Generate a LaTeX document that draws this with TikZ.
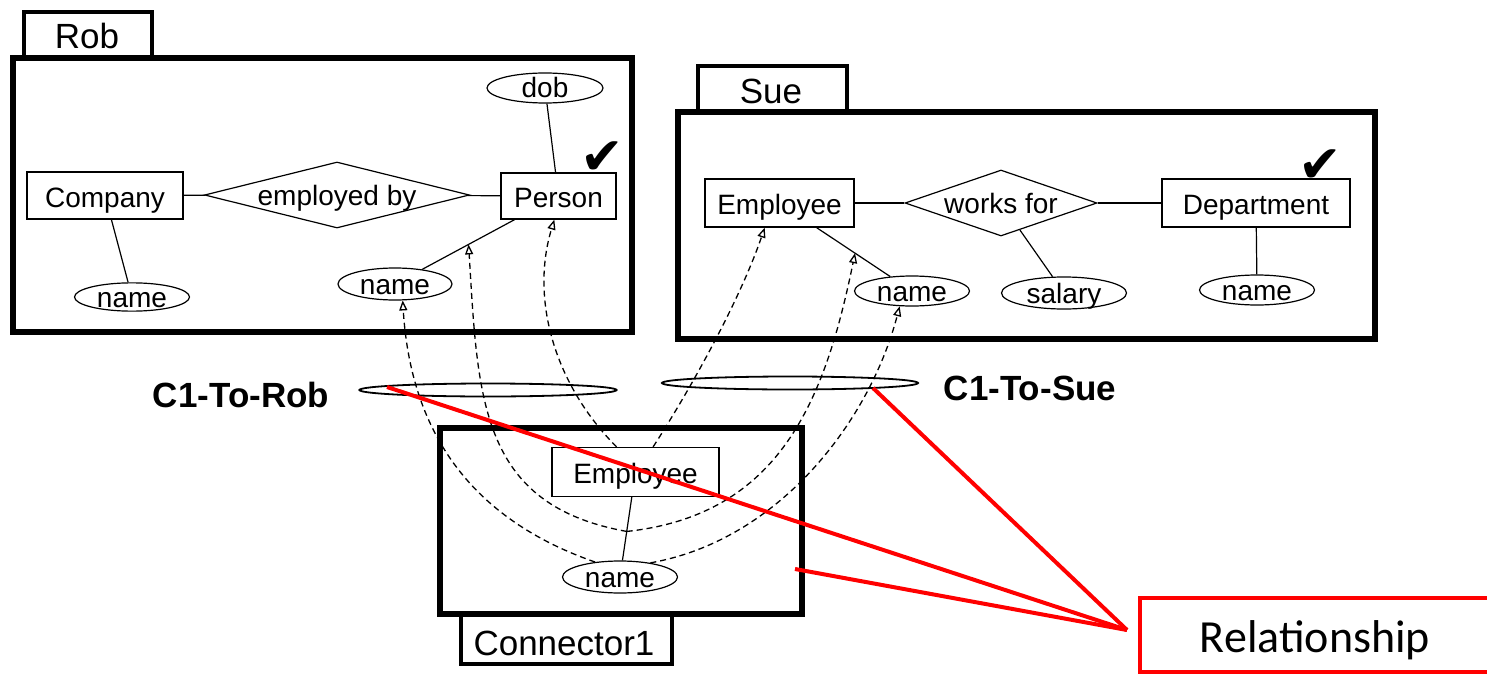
\documentclass[tikz,border=0pt]{standalone}
\usepackage{fontspec}
\setmainfont{Liberation Sans}
\newfontfamily\calibrifont{Carlito}
\newfontfamily\dingfont{DejaVu Sans}
\usetikzlibrary{shapes.geometric,arrows.meta,calc}

\tikzset{
  panel/.style={draw, line width=6pt, rectangle, inner sep=0pt},
  tabbox/.style={draw, line width=4.5pt, rectangle, inner sep=0pt},
  tablabel/.style={font=\fontsize{35}{35}\selectfont, anchor=base, inner sep=0pt},
  entity/.style={draw, line width=1.3pt, rectangle, inner sep=0pt,
    font=\fontsize{28}{28}\selectfont, text height=23pt, text depth=0pt},
  attrib/.style={draw, line width=1.2pt, ellipse, inner sep=0pt,
    font=\fontsize{28}{28}\selectfont, text height=20pt, text depth=0pt},
  relship/.style={draw, line width=1.2pt, diamond, inner sep=0pt},
  reltext/.style={font=\fontsize{28}{28}\selectfont, text height=20pt, text depth=0pt, inner sep=0pt},
  ring/.style={draw, line width=1.8pt, ellipse, inner sep=0pt},
  link/.style={line width=1.2pt},
  mapsto/.style={line width=1.3pt, dash pattern=on 6pt off 4pt,
    -{Triangle[open,length=10pt,width=8pt]}},
  tick/.style={font=\dingfont\fontsize{52}{52}\selectfont, inner sep=0pt},
  maplabel/.style={font=\bfseries\fontsize{35}{35}\selectfont, anchor=base, inner sep=0pt},
  callout/.style={draw=red, line width=4pt},
}

\begin{document}
\begin{tikzpicture}[x=1pt, y=-1pt]
\useasboundingbox (0,0) rectangle (1487,674);
\clip (0,0) rectangle (1487,674);

% ---- schema Rob ----
\node[panel, minimum width=619pt, minimum height=274pt] (robpanel) at (322.5,195) {};
\node[tabbox, minimum width=128pt, minimum height=46pt] (robtab) at (88,35) {};
\node[tablabel] (roblabel) at (87,49) {Rob};

\node[entity, minimum width=156pt, minimum height=47pt] (company) at (105,195.5) {Company};
\node[entity, minimum width=115pt, minimum height=46pt] (person) at (558.5,196) {Person};
\node[relship, minimum width=265pt, minimum height=66pt,
      label={[reltext]center:employed by}] (empby) at (337,195) {};
\node[attrib, minimum width=116pt, minimum height=30pt] (dob) at (545,88) {dob};
\node[attrib, minimum width=115pt, minimum height=28pt] (compname) at (132,297) {name};
\node[attrib, minimum width=114pt, minimum height=32pt] (pname) at (395,284) {name};
\node[tick] (robtick) at (602,158) {✔};

\draw[link] (company) -- (empby);
\draw[link] (empby) -- (person);
\draw[link] (company) -- (compname);
\draw[link] (dob) -- (person);
\draw[link] (person) -- (pname);

% ---- schema Sue ----
\node[panel, minimum width=697pt, minimum height=227pt] (suepanel) at (1026.5,225.5) {};
\node[tabbox, minimum width=149pt, minimum height=46pt] (suetab) at (772.5,89) {};
\node[tablabel] (suelabel) at (771,104) {Sue};

\node[entity, minimum width=149pt, minimum height=48pt] (semp) at (779.5,203) {Employee};
\node[entity, minimum width=188pt, minimum height=48pt] (dept) at (1256,203) {Department};
\node[relship, minimum width=192pt, minimum height=66pt,
      label={[reltext]center:works for}] (worksfor) at (1001,203) {};
\node[attrib, minimum width=115pt, minimum height=30pt] (sname) at (912,291) {name};
\node[attrib, minimum width=125pt, minimum height=32pt] (salary) at (1064,293) {salary};
\node[attrib, minimum width=115pt, minimum height=30pt] (dname) at (1257,290) {name};
\node[tick] (suetick) at (1320,166) {✔};

\draw[link] (semp) -- (worksfor);
\draw[link] (worksfor) -- (dept);
\draw[link] (semp) -- (sname);
\draw[link] (worksfor) -- (salary);
\draw[link] (dept) -- (dname);

% ---- Connector1 ----
\node[panel, minimum width=362pt, minimum height=186pt] (conpanel) at (621,521) {};
\node[tabbox, minimum width=211pt, minimum height=50pt] (contab) at (566.5,639) {};
\node[tablabel] (conlabel) at (564,655) {Connector1};

\node[entity, minimum width=167pt, minimum height=49pt] (cemp) at (635.5,472) {Employee};
\node[attrib, minimum width=115pt, minimum height=32pt] (kname) at (620,577) {name};
\draw[link] (cemp) -- (kname);

% ---- mappings ----
\node[ring, minimum width=257pt, minimum height=13pt] (torob) at (488,390) {};
\node[ring, minimum width=256pt, minimum height=13pt] (tosue) at (790,383) {};
\node[maplabel] (torobtext) at (241,407) {C1-To-Rob};
\node[maplabel] (tosuetext) at (1030,400) {C1-To-Sue};

\coordinate (kmid) at ($(cemp)!0.566!(kname)$);
\coordinate (robattr) at ($(person)!0.55!(pname)$);
\coordinate (sueattr) at ($(semp)!0.57!(sname)$);

\draw[mapsto] (kname.149) .. controls (460,515) and (410,420) .. (pname.-65);
\draw[mapsto] (kmid) .. controls (480,505) and (478,400) .. (robattr);
\draw[mapsto] (cemp.127) .. controls (555,385) and (530,300) .. (person.-100);
\draw[mapsto] (cemp.55) .. controls (690,390) and (740,300) .. (semp.-121);
\draw[mapsto] (kmid) .. controls (780,515) and (825,400) .. (sueattr);
\draw[mapsto] (kname.25) .. controls (780,540) and (870,420) .. (sname.-129);

% ---- annotation ----
\node[draw=red, line width=4pt, rectangle, inner sep=0pt,
      minimum width=350pt, minimum height=74pt,
      font=\calibrifont\fontsize{46}{46}\selectfont, text height=34pt, text depth=0pt]
      (relbox) at (1315,635) {Relationship};
\coordinate (relpt) at (1127,630);
\coordinate (robpt) at (387,387);
\coordinate (suept) at (873,388);
\coordinate (conpt) at (795,569);
\draw[callout] (robpt) -- (relpt);
\draw[callout] (suept) -- (relpt);
\draw[callout] (conpt) -- (relpt);
\end{tikzpicture}
\end{document}
